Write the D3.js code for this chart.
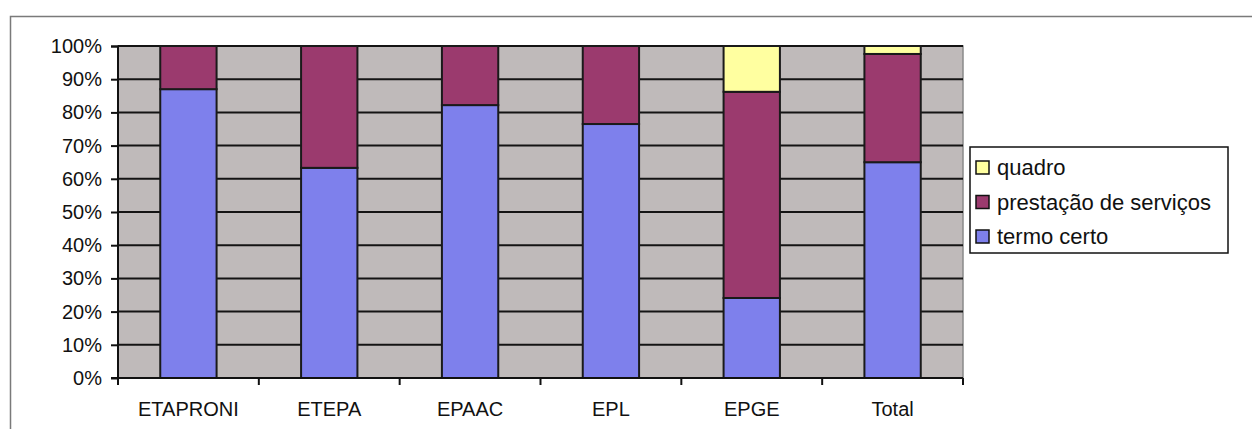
<!DOCTYPE html>
<html>
<head>
<meta charset="utf-8">
<script src="https://cdn.jsdelivr.net/npm/d3@7"></script>
<style>
  body { margin: 0; background: #fff; }
  text { font-family: "Liberation Sans", Arial, sans-serif; fill: #111; }
</style>
</head>
<body>
<div id="chart"></div>
<script>
let categories = ["ETAPRONI", "ETEPA", "EPAAC", "EPL", "EPGE", "Total"];
let termoCerto = [0.87, 0.633, 0.822, 0.765, 0.241, 0.65];
let prestacao = [0.13, 0.367, 0.178, 0.235, 0.621, 0.326];
let quadro = [0, 0, 0, 0, 0.138, 0.024];
let seriesNames = ["termo certo", "prestação de serviços", "quadro"];
let yTicks = [0, 0.1, 0.2, 0.3, 0.4, 0.5, 0.6, 0.7, 0.8, 0.9, 1];

let colors = { "termo certo": "#7e80ec", "prestação de serviços": "#9b3a6e", "quadro": "#ffffa0" };

let W = 1252, H = 429;
let margin = { top: 46, left: 118 },
  width = 963 - 118,
  height = 378 - 46;

let svg = d3.select("#chart").append("svg").attr("width", W).attr("height", H);

// outer chart frame (runs off the page at right / bottom)
svg.append("path")
  .attr("d", "M10.5," + H + "V16.5H" + W)
  .attr("fill", "none")
  .attr("stroke", "#7a7a7a")
  .attr("stroke-width", 1.5);

let table = categories.map((c, i) => ({
  cat: c,
  "termo certo": termoCerto[i],
  "prestação de serviços": prestacao[i],
  "quadro": quadro[i]
}));
let stacked = d3.stack().keys(seriesNames)(table);

let canvas = svg.append("g").attr("transform", "translate(" + margin.left + "," + margin.top + ")");

let xScale = d3.scaleBand().domain(categories).range([0, width]).paddingInner(0.6).paddingOuter(0.3);
let yScale = d3.scaleLinear().domain([0, 1]).range([height, 0]);

canvas.append("rect")
  .attr("width", width).attr("height", height)
  .attr("fill", "#bfbaba")
  .attr("stroke", "#8a8a8a").attr("stroke-width", 1.5);

// gridlines
canvas.append("g")
  .selectAll("line")
  .data(yTicks.slice(1))
  .join("line")
  .attr("x1", 0).attr("x2", width)
  .attr("y1", d => yScale(d)).attr("y2", d => yScale(d))
  .attr("stroke", "#141414").attr("stroke-width", 2);

// bars
canvas.append("g")
  .selectAll("g")
  .data(stacked)
  .join("g")
  .attr("fill", d => colors[d.key])
  .selectAll("rect")
  .data(d => d.filter(s => s[1] - s[0] > 0))
  .join("rect")
  .attr("x", d => xScale(d.data.cat))
  .attr("width", xScale.bandwidth())
  .attr("y", d => yScale(d[1]))
  .attr("height", d => yScale(d[0]) - yScale(d[1]))
  .attr("stroke", "#1a1a1a").attr("stroke-width", 2);

// y axis
let yAxis = d3.axisLeft(yScale).tickValues(yTicks).tickFormat(d3.format(".0%")).tickSize(7).tickPadding(9);
let yAxisEl = canvas.append("g").call(yAxis);
yAxisEl.select(".domain").attr("stroke", "#111").attr("stroke-width", 2).attr("d", "M-7,0.5H0V" + height + "H-7");
yAxisEl.selectAll(".tick line").attr("stroke", "#111").attr("stroke-width", 2);
yAxisEl.selectAll("text").style("font-size", "20px").attr("fill", "#111");

// x axis with ticks at category boundaries
let xBound = d3.scaleLinear().domain([0, categories.length]).range([0, width]);
let xAxisEl = canvas.append("g").attr("transform", "translate(0," + height + ")");
xAxisEl.append("line").attr("x1", 0).attr("x2", width).attr("stroke", "#111").attr("stroke-width", 2);
xAxisEl.selectAll(".bt")
  .data(d3.range(categories.length + 1))
  .join("line")
  .attr("class", "bt")
  .attr("x1", d => xBound(d)).attr("x2", d => xBound(d))
  .attr("y1", 0).attr("y2", 7)
  .attr("stroke", "#111").attr("stroke-width", 2);
xAxisEl.selectAll("text")
  .data(categories)
  .join("text")
  .attr("x", d => xScale(d) + xScale.bandwidth() / 2)
  .attr("y", 38)
  .attr("text-anchor", "middle")
  .style("font-size", "20px")
  .text(d => d);

// legend
let legend = svg.append("g").attr("transform", "translate(970,147)");
legend.append("rect")
  .attr("width", 258).attr("height", 106)
  .attr("fill", "#fff").attr("stroke", "#111").attr("stroke-width", 1.5);
let items = legend.selectAll(".item")
  .data(seriesNames.slice().reverse())
  .join("g")
  .attr("class", "item")
  .attr("transform", (d, i) => "translate(6," + (20 + i * 34.5) + ")");
items.append("rect")
  .attr("x", 0).attr("y", -6).attr("width", 13).attr("height", 13)
  .attr("fill", d => colors[d]).attr("stroke", "#111").attr("stroke-width", 1.5);
items.append("text")
  .attr("x", 21).attr("y", 8)
  .style("font-size", "22px")
  .text(d => d);
</script>
</body>
</html>
